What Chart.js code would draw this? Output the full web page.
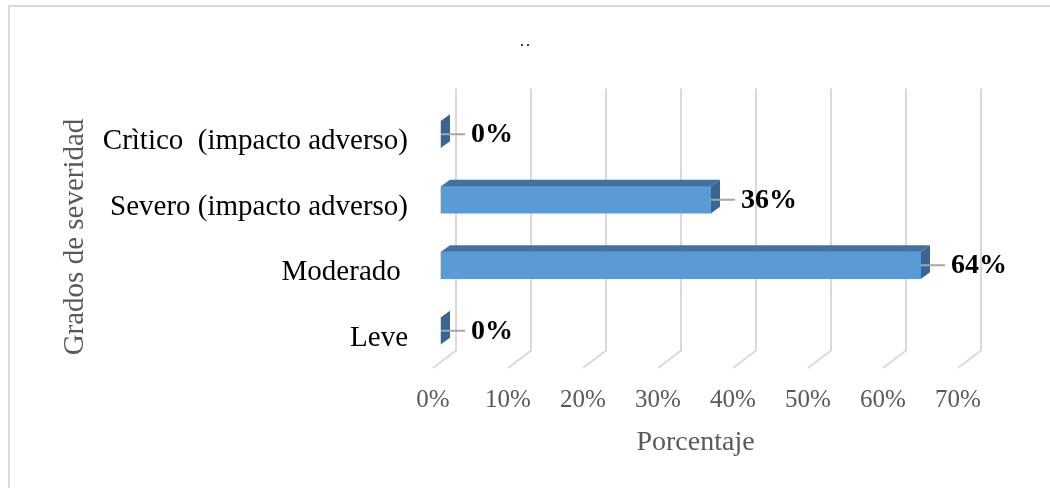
<!DOCTYPE html>
<html>
<head>
<meta charset="utf-8">
<script src="https://cdn.jsdelivr.net/npm/chart.js@4.4.0/dist/chart.umd.min.js"></script>
<style>
  body { margin: 0; background: #fff; }
  #wrap { position: relative; width: 1050px; height: 488px; overflow: hidden; }
  #frame { position: absolute; left: 8px; top: 5px; width: 1200px; height: 600px;
           border-top: 2px solid #d9d9d9; border-left: 2px solid #d9d9d9; }
  #chart { position: absolute; left: 0; top: 0; }
</style>
</head>
<body>
<div id="wrap">
  <div id="frame"></div>
  <canvas id="chart" width="1050" height="488"></canvas>
</div>
<script>
const categories = ["Crìtico  (impacto adverso)", "Severo (impacto adverso)", "Moderado ", "Leve"];
const percentages = [0, 36, 64, 0];
const tickValues = [0, 10, 20, 30, 40, 50, 60, 70];

const SERIF = "'Liberation Serif', 'Times New Roman', serif";
const FRONT = "#5b9bd5";
const TOP_FACE = "#44729f";
const SIDE_FACE = "#3a6591";
const GRID = "#d9d9d9";

// oblique offsets: back wall vs front plane, bar front vs front plane, bar depth
const WALL_DX = 23, WALL_DY = -17.5;
const BAR_DX = 8, BAR_DY = -4.5;
const DEPTH_DX = 9, DEPTH_DY = -6.5;

const grid3d = {
  id: "grid3d",
  beforeDatasetsDraw(chart) {
    const { ctx, chartArea } = chart;
    const xs = chart.scales.x;
    ctx.save();
    ctx.strokeStyle = GRID;
    ctx.lineWidth = 2;
    tickValues.forEach(v => {
      const x = xs.getPixelForValue(v);
      ctx.beginPath();
      ctx.moveTo(x + WALL_DX, chartArea.top + WALL_DY);
      ctx.lineTo(x + WALL_DX, chartArea.bottom + WALL_DY);
      ctx.lineTo(x, chartArea.bottom);
      ctx.stroke();
    });
    ctx.restore();
    // bars sit a bit behind the front plane
    ctx.save();
    ctx.translate(BAR_DX, BAR_DY);
  },
  afterDatasetsDraw(chart) {
    const { ctx } = chart;
    const meta = chart.getDatasetMeta(0);
    meta.data.forEach((bar, i) => {
      const p = bar.getProps(["x", "y", "base", "height"], true);
      const top = p.y - p.height / 2;
      const bottom = p.y + p.height / 2;

      ctx.fillStyle = TOP_FACE;
      ctx.beginPath();
      ctx.moveTo(p.base, top);
      ctx.lineTo(p.base + DEPTH_DX, top + DEPTH_DY);
      ctx.lineTo(p.x + DEPTH_DX, top + DEPTH_DY);
      ctx.lineTo(p.x, top);
      ctx.closePath();
      ctx.fill();

      ctx.fillStyle = SIDE_FACE;
      ctx.beginPath();
      ctx.moveTo(p.x, top);
      ctx.lineTo(p.x + DEPTH_DX, top + DEPTH_DY);
      ctx.lineTo(p.x + DEPTH_DX, bottom + DEPTH_DY);
      ctx.lineTo(p.x, bottom);
      ctx.closePath();
      ctx.fill();

      // leader line + value label
      ctx.strokeStyle = "#a6a6a6";
      ctx.lineWidth = 2;
      ctx.beginPath();
      ctx.moveTo(p.x, p.y);
      ctx.lineTo(p.x + 24, p.y);
      ctx.stroke();

      ctx.fillStyle = "#000";
      ctx.font = "bold 28px " + SERIF;
      ctx.textAlign = "left";
      ctx.textBaseline = "middle";
      ctx.fillText(percentages[i] + "%", p.x + 30, p.y + 1);
    });
    ctx.restore();
  }
};

new Chart(document.getElementById("chart"), {
  type: "bar",
  data: {
    labels: categories,
    datasets: [{
      data: percentages,
      backgroundColor: FRONT,
      borderWidth: 0,
      barThickness: 27,
      clip: false
    }]
  },
  plugins: [grid3d],
  options: {
    indexAxis: "y",
    responsive: false,
    devicePixelRatio: 1,
    animation: false,
    layout: { padding: 0 },
    plugins: {
      legend: { display: false },
      tooltip: { enabled: false },
      title: {
        display: true,
        text: ". .",
        color: "#000",
        font: { family: SERIF, size: 12 },
        padding: { top: 36, bottom: 55.6 }
      }
    },
    scales: {
      x: {
        min: 0,
        max: 70,
        grid: { display: false, drawTicks: false },
        border: { display: false },
        afterFit: s => { s.height = 120; },
        afterBuildTicks: s => { s.ticks = tickValues.map(v => ({ value: v })); },
        ticks: {
          autoSkip: false,
          maxRotation: 0,
          padding: 17,
          color: "#595959",
          font: { family: SERIF, size: 25 },
          callback: v => v + "%"
        },
        title: {
          display: true,
          text: "Porcentaje",
          color: "#595959",
          font: { family: SERIF, size: 28 },
          padding: { top: 0, bottom: 29 }
        }
      },
      y: {
        grid: { display: false, drawTicks: false },
        border: { display: false },
        afterFit: s => { s.width = 433; },
        ticks: {
          autoSkip: false,
          padding: 25,
          labelOffset: 3,
          color: "#000",
          font: { family: SERIF, size: 29 }
        },
        title: {
          display: true,
          text: "Grados de severidad",
          color: "#595959",
          font: { family: SERIF, size: 29 },
          padding: { top: 58, bottom: 0 }
        }
      },
      // empty right-hand box that keeps the plot away from the right edge
      yRight: {
        type: "linear",
        position: "right",
        grid: { display: false, drawTicks: false },
        border: { display: false },
        ticks: { display: false },
        afterFit: s => { s.width = 92; }
      }
    }
  }
});
</script>
</body>
</html>
